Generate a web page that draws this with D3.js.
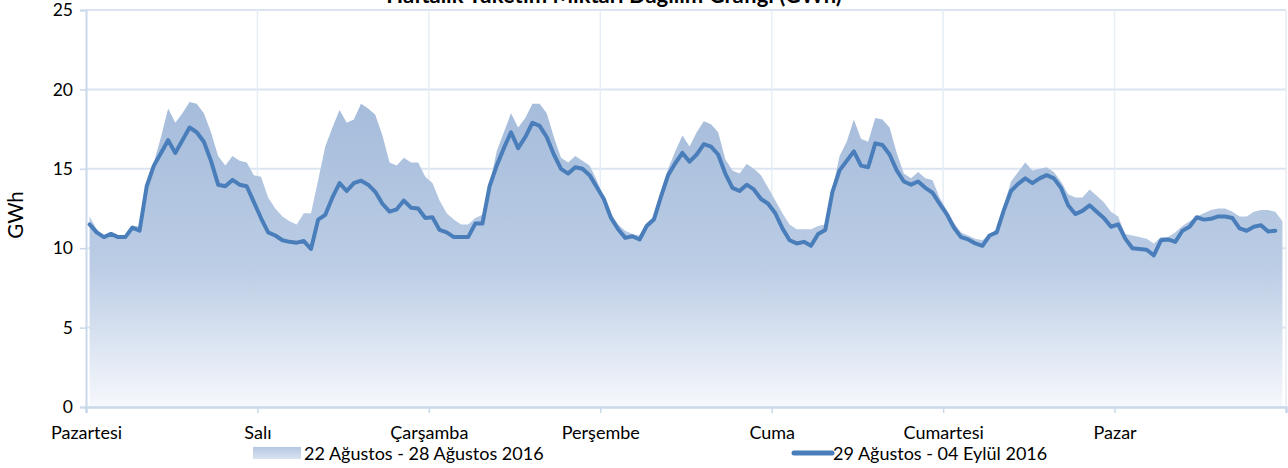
<!DOCTYPE html>
<html>
<head>
<meta charset="utf-8">
<script src="https://cdn.jsdelivr.net/npm/d3@7"></script>
<style>
  body { margin: 0; background: #fff; }
  svg { display: block; font-family: Lato, "Liberation Sans", sans-serif; }
</style>
</head>
<body>
<svg id="chart" width="1288" height="468"></svg>
<script>
// gün etiketleri
const days = ["Pazartesi", "Salı", "Çarşamba", "Perşembe", "Cuma", "Cumartesi", "Pazar"];
const yTicks = [0, 5, 10, 15, 20, 25];
const seriesNames = ["22 Ağustos - 28 Ağustos 2016", "29 Ağustos - 04 Eylül 2016"];

// saatlik tüketim (GWh), önceki hafta - alan
const prevWeek = [
  12.0, 11.2, 10.8, 10.9, 10.8, 10.8, 11.4, 11.4, 14.0, 15.4, 17.0, 18.8, 17.9, 18.5, 19.2, 19.1, 18.5, 17.3, 15.8, 15.2, 15.8, 15.5, 15.4, 14.6,
  14.5, 13.2, 12.5, 12.0, 11.7, 11.5, 12.2, 12.2, 14.3, 16.4, 17.6, 18.7, 17.9, 18.1, 19.1, 18.8, 18.4, 17.1, 15.4, 15.2, 15.7, 15.4, 15.4, 14.5,
  14.1, 13.0, 12.2, 11.8, 11.5, 11.5, 11.9, 12.1, 14.0, 16.1, 17.3, 18.5, 17.6, 18.2, 19.1, 19.1, 18.5, 17.0, 15.7, 15.4, 15.8, 15.5, 15.2, 14.3,
  13.2, 12.2, 11.5, 11.1, 10.9, 10.8, 11.6, 12.0, 13.6, 15.0, 16.1, 17.1, 16.4, 17.3, 18.0, 17.8, 17.3, 15.6, 14.9, 14.7, 15.3, 15.0, 14.6, 13.8,
  13.0, 12.2, 11.5, 11.2, 11.2, 11.2, 11.4, 11.5, 13.7, 15.8, 16.7, 18.1, 16.9, 16.7, 18.2, 18.1, 17.6, 16.0, 14.7, 14.4, 14.8, 14.4, 14.3, 13.2,
  12.4, 11.6, 11.0, 10.8, 10.6, 10.5, 10.9, 11.2, 12.7, 14.2, 14.8, 15.4, 14.9, 15.0, 15.1, 14.8, 14.2, 13.4, 13.2, 13.2, 13.7, 13.3, 12.9, 12.3,
  12.0, 10.9, 10.8, 10.7, 10.6, 10.3, 10.7, 10.7, 11.0, 11.4, 11.7, 12.0, 12.2, 12.4, 12.5, 12.5, 12.3, 12.0, 12.0, 12.3, 12.4, 12.4, 12.3, 11.7
];

// saatlik tüketim (GWh), bu hafta - çizgi (son saat yok)
const thisWeek = [
  11.5, 11.0, 10.7, 10.9, 10.7, 10.7, 11.3, 11.1, 13.9, 15.2, 16.0, 16.8, 16.0, 16.8, 17.6, 17.3, 16.7, 15.5, 14.0, 13.9, 14.3, 14.0, 13.9, 12.9,
  11.9, 11.0, 10.8, 10.5, 10.4, 10.35, 10.45, 9.95, 11.8, 12.1, 13.2, 14.1, 13.6, 14.1, 14.25, 14.0, 13.55, 12.8, 12.3, 12.45, 13.0, 12.55, 12.5, 11.9,
  11.95, 11.15, 11.0, 10.7, 10.7, 10.7, 11.55, 11.55, 13.9, 15.2, 16.3, 17.3, 16.3, 17.0, 17.9, 17.7, 17.0, 15.9, 15.0, 14.7, 15.1, 15.0, 14.6, 13.85,
  13.1, 11.9, 11.2, 10.65, 10.75, 10.55, 11.4, 11.8, 13.25, 14.6, 15.35, 16.0, 15.45, 15.9, 16.55, 16.4, 15.9, 14.7, 13.8, 13.6, 14.0, 13.7, 13.1, 12.8,
  12.2, 11.25, 10.5, 10.3, 10.4, 10.15, 10.9, 11.15, 13.55, 14.9, 15.5, 16.1, 15.2, 15.1, 16.6, 16.5, 15.9, 14.9, 14.2, 14.0, 14.2, 13.8, 13.5, 12.8,
  12.15, 11.3, 10.7, 10.55, 10.3, 10.15, 10.8, 11.0, 12.4, 13.6, 14.05, 14.4, 14.1, 14.4, 14.6, 14.4, 13.8, 12.7, 12.15, 12.35, 12.7, 12.3, 11.9, 11.35,
  11.5, 10.6, 10.0, 9.95, 9.9, 9.55, 10.5, 10.55, 10.4, 11.1, 11.35, 11.95, 11.8, 11.85, 12.0, 12.0, 11.9, 11.25, 11.1, 11.35, 11.45, 11.05, 11.1
];

const W = 1288, H = 468;
const margin = { top: 10, right: 2, bottom: 61, left: 86 };
const plotW = W - margin.left - margin.right;   // 1200
const plotH = H - margin.top - margin.bottom;   // 397
const hours = days.length * 24;

const svg = d3.select("#chart");

const defs = svg.append("defs");
const grad = defs.append("linearGradient")
  .attr("id", "areaGrad")
  .attr("x1", 0).attr("y1", 0).attr("x2", 0).attr("y2", 1);
grad.append("stop").attr("offset", "0%").attr("stop-color", "#a5bcdb");
grad.append("stop").attr("offset", "55%").attr("stop-color", "#bccde5");
grad.append("stop").attr("offset", "100%").attr("stop-color", "#f6f8fc");

const legGrad = defs.append("linearGradient")
  .attr("id", "legGrad")
  .attr("x1", 0).attr("y1", 0).attr("x2", 0).attr("y2", 1);
legGrad.append("stop").attr("offset", "0%").attr("stop-color", "#b4c7e2");
legGrad.append("stop").attr("offset", "100%").attr("stop-color", "#d9e3f1");

const g = svg.append("g")
  .attr("transform", `translate(${margin.left},${margin.top})`);

// kategori ekseni: 168 saat, noktalar aralık ortasında
const x = d3.scaleLinear().domain([0, hours]).range([0, plotW]);
const y = d3.scaleLinear().domain([0, 25]).range([plotH, 0]);

// yatay ızgara
g.append("g")
  .selectAll("line")
  .data(yTicks.filter(d => d > 0))
  .join("line")
  .attr("x1", 0).attr("x2", plotW)
  .attr("y1", d => y(d)).attr("y2", d => y(d))
  .attr("stroke", "#dbe5f1").attr("stroke-width", 2);

// dikey ızgara (gün sınırları)
g.append("g")
  .selectAll("line")
  .data(d3.range(1, days.length + 1))
  .join("line")
  .attr("x1", d => x(d * 24)).attr("x2", d => x(d * 24))
  .attr("y1", 0).attr("y2", plotH)
  .attr("stroke", "#e6edf6").attr("stroke-width", 1.5);

// alan serisi
const area = d3.area()
  .x((d, i) => x(i + 0.5))
  .y0(y(0))
  .y1(d => y(d));

g.append("path")
  .datum(prevWeek)
  .attr("d", area)
  .attr("fill", "url(#areaGrad)");

// eksenler
const yAxis = g.append("g")
  .call(d3.axisLeft(y).tickValues(yTicks).tickSize(6).tickPadding(7));
yAxis.select(".domain").attr("stroke", "#c9d8eb").attr("stroke-width", 2);
yAxis.selectAll(".tick line").attr("stroke", "#c9d8eb").attr("stroke-width", 1.5);
yAxis.selectAll(".tick text")
  .attr("font-family", "Lato, sans-serif")
  .attr("font-size", 17.5)
  .attr("fill", "#000");

const xAxis = g.append("g")
  .attr("transform", `translate(0,${plotH})`)
  .call(d3.axisBottom(x)
    .tickValues(d3.range(0, days.length + 1).map(d => d * 24))
    .tickFormat(d => days[d / 24] || "")
    .tickSize(6).tickPadding(13));
xAxis.select(".domain").attr("stroke", "#c9d8eb").attr("stroke-width", 2.5);
xAxis.selectAll(".tick line").attr("stroke", "#c9d8eb").attr("stroke-width", 1.5);
xAxis.selectAll(".tick text")
  .attr("font-family", "Lato, sans-serif")
  .attr("font-size", 18)
  .attr("fill", "#000");

// çizgi serisi
const line = d3.line()
  .x((d, i) => x(i + 0.5))
  .y(d => y(d));

g.append("path")
  .datum(thisWeek)
  .attr("d", line)
  .attr("fill", "none")
  .attr("stroke", "#4a7ebb")
  .attr("stroke-width", 4)
  .attr("stroke-linejoin", "round")
  .attr("stroke-linecap", "round");

// başlık (referansta olduğu gibi üstten kesik)
svg.append("text")
  .attr("x", 614).attr("y", 3)
  .attr("text-anchor", "middle")
  .attr("font-family", "Lato, sans-serif")
  .attr("font-weight", "bold")
  .attr("font-size", 22)
  .text("Haftalık Tüketim Miktarı Dağılım Grafiği (GWh)");

// y ekseni başlığı
svg.append("text")
  .attr("transform", "translate(23,215) rotate(-90)")
  .attr("text-anchor", "middle")
  .attr("font-family", "Lato, sans-serif")
  .attr("font-size", 20.5)
  .text("GWh");

// lejant
const leg = svg.append("g");
leg.append("rect")
  .attr("x", 253).attr("y", 447).attr("width", 48).attr("height", 12)
  .attr("fill", "url(#legGrad)");
leg.append("text")
  .attr("x", 304).attr("y", 460)
  .attr("font-family", "Lato, sans-serif")
  .attr("font-size", 18)
  .text(seriesNames[0]);
leg.append("line")
  .attr("x1", 794).attr("x2", 832).attr("y1", 453).attr("y2", 453)
  .attr("stroke", "#4a7ebb").attr("stroke-width", 5)
  .attr("stroke-linecap", "round");
leg.append("text")
  .attr("x", 833).attr("y", 460)
  .attr("font-family", "Lato, sans-serif")
  .attr("font-size", 18)
  .text(seriesNames[1]);
</script>
</body>
</html>
